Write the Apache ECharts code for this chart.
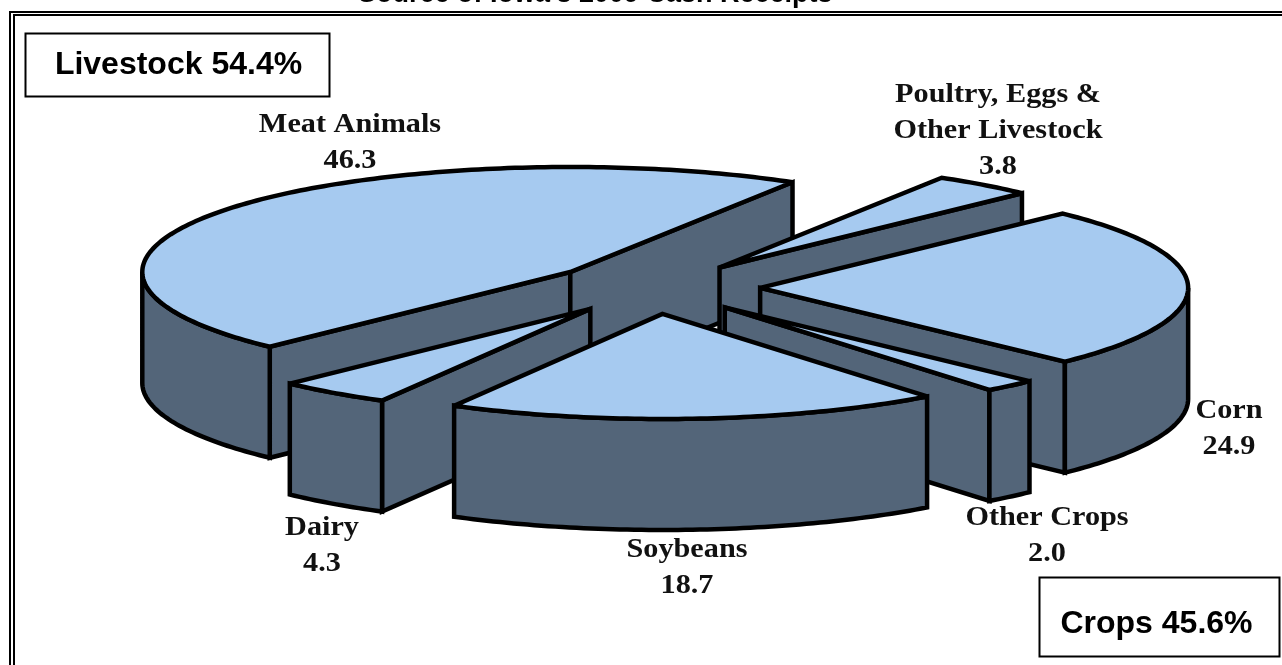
<!DOCTYPE html>
<html>
<head>
<meta charset="utf-8">
<title>Source of Iowa's 2009 Cash Receipts</title>
<script src="https://cdn.jsdelivr.net/npm/echarts@6/dist/echarts.min.js"></script>
<style>
  html, body { margin: 0; padding: 0; background: #fff; }
  #chart { width: 1282px; height: 665px; }
</style>
</head>
<body>
<div id="chart"></div>
<script>
// slices run clockwise, starting from the cut between Dairy and Meat Animals
const categories = ['Meat Animals', 'Poultry, Eggs &\nOther Livestock', 'Corn', 'Other Crops', 'Soybeans', 'Dairy'];
const receipts = [46.3, 3.8, 24.9, 2.0, 18.7, 4.3];
// painter's order, back slices first
const drawOrder = [0, 1, 2, 5, 3, 4];
const titleText = "Source of Iowa's 2009 Cash Receipts";
const livestockText = 'Livestock 54.4%';
const cropsText = 'Crops 45.6%';

// pie layout
const cx = 654, cy = 288, rx = 428, ry = 105, depth = 111, explode = 0.248, startAngle = 134.6;
const topColor = '#A6CAF0', wallColor = '#536579';
const labelSpots = [[350, 143], [998, 131], [1229, 429], [1047, 536], [687, 568], [322, 546]];

const total = receipts.reduce((a, b) => a + b, 0);
const starts = [];
receipts.reduce((acc, v, i) => { starts[i] = acc; return acc + v; }, 0);

const rad = d => d * Math.PI / 180;

function renderSlice(params, api) {
  const idx = api.value(0);
  const a0 = startAngle + starts[idx] / total * 360;
  const a1 = a0 + api.value(1) / total * 360;
  const mid = rad((a0 + a1) / 2);
  const ax = cx + explode * rx * Math.cos(mid);
  const ay = cy + explode * ry * Math.sin(mid);
  const rim = a => [ax + rx * Math.cos(rad(a)), ay + ry * Math.sin(rad(a))];
  const down = p => [p[0], p[1] + depth];
  const arc = (from, to) => {
    const pts = [];
    const n = Math.ceil(to - from) + 1;
    for (let i = 0; i <= n; i++) pts.push(rim(from + (to - from) * i / n));
    return pts;
  };
  const poly = (points, fill) => ({
    type: 'polygon',
    shape: { points: points },
    style: { fill: fill, stroke: '#000', lineWidth: 4.5, lineJoin: 'miter', miterLimit: 2 }
  });
  const children = [];

  // flat cut faces, only the ones turned to the viewer
  [[a0, Math.cos(rad(a0)) < 0], [a1, Math.cos(rad(a1)) > 0]].forEach(f => {
    if (!f[1]) return;
    const p = rim(f[0]);
    children.push(poly([[ax, ay], p, down(p), [ax, ay + depth]], wallColor));
  });
  // outer wall on the front half of the ellipse
  [[0, 180], [360, 540]].forEach(r => {
    const from = Math.max(a0, r[0]), to = Math.min(a1, r[1]);
    if (to <= from) return;
    const edge = arc(from, to);
    children.push(poly(edge.concat(edge.map(down).reverse()), wallColor));
  });
  // top
  children.push(poly([[ax, ay]].concat(arc(a0, a1)), topColor));
  // label
  children.push({
    type: 'text',
    x: labelSpots[idx][0],
    y: labelSpots[idx][1],
    scaleX: 1.12,
    style: {
      text: categories[idx] + '\n' + api.value(1).toFixed(1),
      font: 'bold 27px "Liberation Serif"',
      fill: '#111',
      lineHeight: 36,
      textAlign: 'center',
      textVerticalAlign: 'middle'
    }
  });
  return { type: 'group', children: children };
}

function box(left, top, width, height, text, textX, textY) {
  return {
    type: 'group',
    children: [
      {
        type: 'rect',
        shape: { x: left, y: top, width: width, height: height },
        style: { fill: '#fff', stroke: '#000', lineWidth: 2 }
      },
      {
        type: 'text',
        x: textX,
        y: textY,
        style: {
          text: text,
          font: 'bold 32px "Liberation Sans"',
          fill: '#000',
          textAlign: 'center',
          textVerticalAlign: 'middle'
        }
      }
    ]
  };
}

function frameLine(x1, y1, x2, y2, w) {
  return { type: 'line', shape: { x1: x1, y1: y1, x2: x2, y2: y2 }, style: { stroke: '#000', lineWidth: w } };
}

const chart = echarts.init(document.getElementById('chart'));
chart.setOption({
  animation: false,
  backgroundColor: '#fff',
  title: {
    text: titleText,
    left: 353,
    top: -24,
    textStyle: { fontFamily: 'Liberation Sans', fontWeight: 'bold', fontSize: 27, color: '#000' }
  },
  graphic: [
    frameLine(9, 12, 1282, 12, 2),
    frameLine(13, 15, 1282, 15, 2),
    frameLine(10, 11, 10, 665, 2),
    frameLine(14, 14, 14, 665, 2),
    box(25.5, 33.5, 304, 63, livestockText, 178.5, 65),
    box(1039.5, 577.5, 240, 79, cropsText, 1156.5, 624)
  ],
  series: [{
    type: 'custom',
    coordinateSystem: 'none',
    renderItem: renderSlice,
    data: drawOrder.map(i => [i, receipts[i]])
  }]
});
</script>
</body>
</html>
